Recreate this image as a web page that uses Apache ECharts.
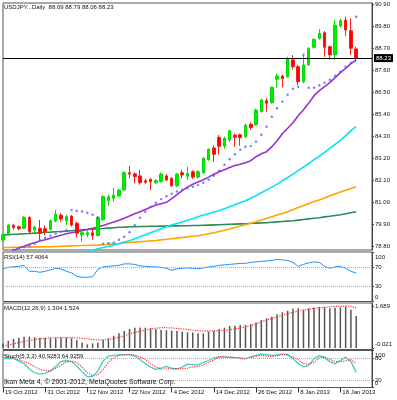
<!DOCTYPE html>
<html>
<head>
<meta charset="utf-8">
<script src="https://cdn.jsdelivr.net/npm/echarts@6/dist/echarts.min.js"></script>
<style>html,body{margin:0;padding:0;background:#fff}#main{width:397px;height:400px}</style>
</head>
<body>
<div id="main"></div>
<script>
var myChart = echarts.init(document.getElementById('main'));

var dates = [
  '19 Oct 2012','22 Oct 2012','23 Oct 2012','24 Oct 2012','25 Oct 2012','26 Oct 2012','29 Oct 2012','30 Oct 2012','31 Oct 2012',
  '1 Nov 2012','2 Nov 2012','5 Nov 2012','6 Nov 2012','7 Nov 2012','8 Nov 2012','9 Nov 2012','12 Nov 2012','13 Nov 2012','14 Nov 2012',
  '15 Nov 2012','16 Nov 2012','19 Nov 2012','20 Nov 2012','21 Nov 2012','22 Nov 2012','23 Nov 2012','26 Nov 2012','27 Nov 2012',
  '28 Nov 2012','29 Nov 2012','30 Nov 2012',
  '3 Dec 2012','4 Dec 2012','5 Dec 2012','6 Dec 2012','7 Dec 2012','10 Dec 2012','11 Dec 2012','12 Dec 2012','13 Dec 2012','14 Dec 2012',
  '17 Dec 2012','18 Dec 2012','19 Dec 2012','20 Dec 2012','21 Dec 2012','24 Dec 2012','25 Dec 2012','26 Dec 2012','27 Dec 2012',
  '28 Dec 2012','31 Dec 2012',
  '2 Jan 2013','3 Jan 2013','4 Jan 2013','7 Jan 2013','8 Jan 2013','9 Jan 2013','10 Jan 2013','11 Jan 2013','14 Jan 2013',
  '15 Jan 2013','16 Jan 2013','17 Jan 2013','18 Jan 2013','21 Jan 2013','22 Jan 2013','23 Jan 2013'
];
// empty slots to the right of the last bar
var emptySlots = ['', '', ''];

var open = [
  79.14,79.40,79.87,79.80,79.72,80.27,79.64,79.72,79.70,79.67,
  80.08,80.38,80.10,80.33,79.97,79.39,79.40,79.50,79.36,80.15,
  81.10,81.22,81.34,81.64,82.50,82.44,82.34,82.10,82.17,82.00,
  82.06,82.34,82.22,81.84,82.50,82.32,82.55,82.28,82.50,83.14,
  83.74,84.27,83.84,84.14,84.38,84.40,84.30,84.92,84.90,85.56,
  86.10,86.00,87.17,87.33,87.30,88.14,87.80,87.05,87.89,88.77,
  89.22,89.50,88.80,88.39,89.84,90.13,89.60,88.69
];
var high = [
  79.45,79.93,79.95,79.86,80.33,80.32,79.85,80.13,79.86,80.15,
  80.64,80.47,80.40,80.38,80.05,79.62,79.60,79.72,80.33,81.38,
  81.40,81.74,81.70,82.58,82.84,82.52,82.64,82.20,82.22,82.18,
  82.50,82.44,82.28,82.48,82.64,82.80,82.62,82.62,83.28,83.72,
  83.88,84.38,84.30,84.64,84.44,84.45,84.95,85.02,85.70,86.20,
  86.22,86.80,87.45,87.40,88.30,88.38,87.88,88.38,88.78,89.22,
  89.67,89.58,88.85,90.13,90.20,90.30,90.22,88.79
];
var low = [
  79.05,79.35,79.65,79.62,79.68,79.43,79.48,79.14,79.38,79.60,
  80.02,80.05,79.88,79.80,79.27,79.05,79.28,79.14,79.30,80.10,
  80.85,81.05,81.28,81.60,82.22,81.97,81.90,81.95,81.64,81.93,
  82.00,82.08,81.80,81.80,82.22,82.14,82.20,82.22,82.45,83.10,
  83.05,83.40,83.70,84.05,83.80,83.85,84.22,84.65,84.85,85.50,
  85.55,85.95,86.75,86.77,87.25,87.64,86.88,86.97,87.85,88.70,
  89.15,88.30,88.14,88.14,89.75,89.34,88.39,88.06
];
var close = [
  79.38,79.88,79.76,79.70,80.27,79.55,79.78,79.47,79.56,80.10,
  80.43,80.18,80.30,79.89,79.47,79.50,79.50,79.36,80.27,81.30,
  81.30,81.38,81.63,82.50,82.43,82.30,82.00,82.02,82.05,82.10,
  82.43,82.14,81.84,82.43,82.39,82.46,82.28,82.55,83.22,83.67,
  83.42,83.82,84.22,84.60,84.27,84.25,84.88,84.76,85.63,86.13,
  85.97,86.77,87.33,87.20,88.22,87.80,87.05,87.88,88.72,89.17,
  89.47,88.77,88.39,89.88,90.10,89.64,88.72,88.23
];

var sar = [
  78.55,78.60,78.65,78.72,78.78,78.85,78.95,79.12,79.25,79.35,
  79.45,79.55,79.62,80.63,80.60,80.56,80.50,80.40,80.25,78.95,
  78.97,79.00,79.15,79.30,79.52,79.88,80.25,80.55,80.80,81.00,
  81.18,81.32,81.45,81.56,81.65,81.72,81.80,81.88,82.00,82.15,
  82.35,82.60,82.90,83.17,83.42,83.65,83.80,83.83,84.05,84.40,
  84.80,85.30,85.72,86.05,86.40,86.70,86.80,88.40,86.75,86.75,
  86.87,87.00,87.15,87.35,87.55,87.80,88.00,90.30
];

var maPurple = [
  78.35,78.45,78.60,78.74,78.82,78.92,79.00,79.08,79.15,79.22,
  79.30,79.37,79.45,79.50,79.55,79.60,79.66,79.72,79.78,79.86,
  79.95,80.03,80.12,80.22,80.33,80.45,80.55,80.66,80.77,80.88,
  80.95,81.02,81.20,81.40,81.60,81.78,81.92,82.03,82.15,82.28,
  82.42,82.55,82.65,82.76,82.86,82.92,83.00,83.10,83.30,83.45,
  83.55,83.80,84.10,84.45,84.72,85.00,85.35,85.65,85.98,86.35,
  86.60,86.80,87.00,87.25,87.50,87.72,87.95,88.13
];
var maCyan = [
  78.00,78.03,78.06,78.10,78.13,78.17,78.20,78.24,78.28,78.32,
  78.36,78.40,78.44,78.48,78.52,78.55,78.58,78.62,78.70,78.76,
  78.82,78.88,78.95,79.03,79.10,79.20,79.30,79.40,79.50,79.60,
  79.70,79.80,79.88,79.96,80.04,80.12,80.20,80.30,80.38,80.45,
  80.53,80.60,80.70,80.80,80.90,81.00,81.10,81.22,81.35,81.50,
  81.64,81.78,81.93,82.10,82.26,82.43,82.60,82.78,82.96,83.15,
  83.33,83.52,83.72,83.92,84.12,84.35,84.60,84.80
];
var maOrange = [
  78.76,78.76,78.77,78.77,78.78,78.78,78.79,78.79,78.80,78.80,
  78.81,78.82,78.83,78.84,78.85,78.86,78.86,78.87,78.88,78.90,
  78.92,78.94,78.96,78.99,79.01,79.03,79.05,79.07,79.09,79.11,
  79.14,79.17,79.20,79.23,79.26,79.29,79.32,79.35,79.40,79.45,
  79.50,79.56,79.62,79.69,79.76,79.83,79.90,79.97,80.05,80.13,
  80.22,80.30,80.38,80.46,80.55,80.65,80.76,80.86,80.96,81.06,
  81.14,81.24,81.35,81.44,81.53,81.62,81.71,81.80
];
var maGreen = [
  79.39,79.40,79.42,79.43,79.45,79.46,79.48,79.50,79.52,79.53,
  79.55,79.56,79.58,79.60,79.62,79.64,79.66,79.68,79.70,79.71,
  79.73,79.75,79.77,79.78,79.80,79.80,79.81,79.81,79.82,79.82,
  79.83,79.83,79.84,79.84,79.85,79.85,79.86,79.86,79.87,79.88,
  79.89,79.90,79.91,79.92,79.93,79.94,79.95,79.97,79.98,79.99,
  80.00,80.02,80.04,80.06,80.08,80.10,80.13,80.16,80.19,80.22,
  80.25,80.29,80.32,80.36,80.40,80.45,80.50,80.55
];

var rsi = [
  66,69,70,71,73,61,61,59,61,64,
  67,66,61,58,51,49,49,50,65,70,
  71,72,73,76,76,75,72,71,70,70,
  69,67,63,66,67,68,67,66,68,70,
  71,73,74,75,76,77,77,79,80,81,
  82,83,85,84,83,79,71,75,78,80,
  79,71,67,70,71,67,61,57.4064
];

var macdHist = [
  0.19,0.29,0.37,0.42,0.46,0.46,0.44,0.42,0.41,0.40,
  0.41,0.42,0.42,0.40,0.33,0.23,0.15,0.19,0.23,0.33,
  0.40,0.50,0.60,0.70,0.78,0.83,0.84,0.83,0.81,0.78,
  0.74,0.73,0.71,0.70,0.67,0.64,0.63,0.60,0.60,0.67,
  0.70,0.78,0.83,0.90,0.91,0.94,0.95,0.97,1.04,1.15,
  1.22,1.28,1.38,1.46,1.52,1.60,1.63,1.56,1.62,1.65,
  1.685,1.689,1.63,1.65,1.66,1.689,1.56,1.304
];
var macdSignal = [
  0.08,0.12,0.17,0.22,0.27,0.31,0.35,0.38,0.40,0.42,
  0.42,0.43,0.43,0.42,0.41,0.40,0.38,0.35,0.33,0.33,
  0.35,0.39,0.44,0.50,0.57,0.64,0.69,0.74,0.78,0.81,
  0.83,0.83,0.82,0.80,0.78,0.76,0.73,0.71,0.70,0.70,
  0.70,0.71,0.72,0.75,0.78,0.82,0.86,0.91,0.98,1.06,
  1.14,1.21,1.28,1.33,1.40,1.46,1.51,1.55,1.59,1.62,
  1.64,1.66,1.68,1.70,1.71,1.72,1.70,1.65
];

var stochK = [
  78,79,78,72,64,50,40,36,38,45,
  57,70,73,70,58,43,29,30,45,72,
  85,87,88,89,89,85,75,65,55,49,
  52,57,52,50,55,63,62,61,67,73,
  80,82,82,82,81,80,78,83,87,91,
  89,87,88,90,90,78,65,56,60,78,
  86,80,70,64,73,82,70,40.93
];
var stochD = [
  87,84,80,75,70,65,56,49,46,45,
  52,60,69,71,68,55,40,32,35,48,
  68,80,87,88,89,88,82,76,64,56,
  50,50,51,51,51,52,56,57,60,68,
  74,84,83,82,80,78,77,80,85,87,
  85,83,86,89,87,82,75,64,63,68,
  80,84,76,70,70,72,75,64.93
];

var priceTicks = [78.80, 79.90, 81.00, 82.10, 83.20, 84.30, 85.40, 86.50, 87.60, 88.70, 89.80, 90.90];
var rsiTicks = [0, 30, 70, 100];
var rsiLevels = [70, 30];
var macdTicks = [-0.021, 1.689];
var stochTicks = [20, 80];
var stochEnds = [0, 100];
var stochLevels = [80, 20];
var lastPrice = 88.23;

var font = 'Liberation Sans';
var categories = dates.concat(emptySlots);
var candles = dates.map(function (d, i) { return [open[i], close[i], low[i], high[i]]; });

function labelIdx(i) { return i % 8 === 0 && i <= 64; }

var grids = [
  { left: 3, top: 3, width: 369, height: 247 },
  { left: 3, top: 252, width: 369, height: 49.5 },
  { left: 3, top: 303, width: 369, height: 46.5 },
  { left: 3, top: 350.5, width: 369, height: 37 }
].map(function (g) {
  return Object.assign({ show: true, borderColor: '#555', borderWidth: 1, backgroundColor: '#fff' }, g);
});

var xAxes = grids.map(function (g, k) {
  var last = k === grids.length - 1;
  return {
    type: 'category', gridIndex: k, data: categories, boundaryGap: false,
    axisLine: { show: false },
    axisTick: { show: last, interval: labelIdx, length: 5, inside: false, lineStyle: { color: '#333' } },
    axisLabel: {
      show: last, interval: labelIdx, align: 'left', margin: 2, padding: [0, 0, 0, 2],
      fontSize: 6, fontFamily: font, color: '#111'
    },
    splitLine: { show: false }
  };
});

function shiftRich(v, topVal, botVal, txt) {
  if (v === topVal) return '{dn|' + txt + '}';
  if (v === botVal) return '{up|' + txt + '}';
  return '{n|' + txt + '}';
}
var rich = {
  dn: { fontSize: 6, fontFamily: font, color: '#111', padding: [10, 0, 0, 0] },
  up: { fontSize: 6, fontFamily: font, color: '#111', padding: [0, 0, 8, 0] },
  n: { fontSize: 6, fontFamily: font, color: '#111' }
};

function yAxis(k, min, max, ticks, fmt, bare) {
  return {
    type: 'value', gridIndex: k, position: 'right', offset: 0, min: min, max: max, scale: true,
    axisLine: { show: !bare, lineStyle: { color: '#444' } },
    axisTick: { show: true, length: 2, customValues: ticks, lineStyle: { color: '#444' } },
    axisLabel: {
      customValues: ticks, margin: 3, formatter: fmt, rich: rich, hideOverlap: false,
      fontSize: 6, fontFamily: font, color: '#111'
    },
    splitLine: { show: false }
  };
}

var dotted = { color: '#aaa', type: 'dotted', width: 1 };
function levelLines(levels) {
  return {
    silent: true, symbol: 'none', label: { show: false }, lineStyle: dotted,
    data: levels.map(function (v) { return { yAxis: v }; })
  };
}

function maLine(data, color) {
  return {
    type: 'line', xAxisIndex: 0, yAxisIndex: 0, data: data, showSymbol: false,
    lineStyle: { color: color, width: 1.6 }, z: 3
  };
}

var small = { fontSize: 6, fontFamily: font, fontWeight: 'normal', color: '#111' };

var option = {
  animation: false,
  backgroundColor: '#fff',
  title: [
    { text: 'USDJPY...Daily  88.69 88.79 88.06 88.23', left: 4, top: 4, padding: 0, textStyle: small },
    { text: 'RSI(14) 57.4064', left: 4, top: 254, padding: 0, textStyle: small },
    { text: 'MACD(12,26,9) 1.304 1.524', left: 4, top: 305.5, padding: 0, textStyle: small },
    { text: 'Stoch(5,3,3) 40.9283 64.9259', left: 4, top: 353.5, padding: 0, textStyle: small },
    { text: 'Ikon Meta 4, \u00a9 2001-2012, MetaQuotes Software Corp.', left: 4, top: 378.5, padding: 0,
      textStyle: { fontSize: 7, fontFamily: font, fontWeight: 'normal', color: '#111' } }
  ],
  grid: grids,
  xAxis: xAxes,
  yAxis: [
    yAxis(0, 78.635, 90.985, priceTicks, function (v) { return '{n|' + v.toFixed(2) + '}'; }),
    yAxis(1, 0, 100, rsiTicks, function (v) { return shiftRich(v, 100, 0, String(v)); }),
    yAxis(2, -0.06, 1.84, macdTicks, function (v) { return shiftRich(v, 99, -0.021, v.toFixed(3)); }),
    yAxis(3, 0, 100, stochTicks, function (v) { return String(v); }),
    // second label set for the stochastic pane, drawn over the 80 / 20 labels like the terminal does
    yAxis(3, 0, 100, stochEnds, function (v) { return shiftRich(v, 100, 0, String(v)); }, true)
  ],
  series: [
    maLine(maGreen, '#2e8b57'),
    maLine(maOrange, '#ffa500'),
    maLine(maCyan, '#00e5f0'),
    maLine(maPurple, '#9932cc'),
    {
      type: 'candlestick', xAxisIndex: 0, yAxisIndex: 0, data: candles, barWidth: 3, z: 4,
      itemStyle: { color: '#00ee00', color0: '#ff0000', borderColor: '#00dd00', borderColor0: '#ff1a1a', borderWidth: 1 },
      markLine: {
        silent: true, symbol: 'none',
        lineStyle: { color: '#000', type: 'solid', width: 1 },
        label: {
          show: true, position: 'end', distance: 2, formatter: lastPrice.toFixed(2),
          backgroundColor: '#000', color: '#fff', padding: [1, 2, 1, 2], fontSize: 6, fontFamily: font
        },
        data: [{ yAxis: lastPrice }]
      }
    },
    {
      type: 'scatter', xAxisIndex: 0, yAxisIndex: 0, data: sar, symbol: 'circle', symbolSize: 2.4,
      itemStyle: { color: '#5a5aff' }, z: 5
    },
    {
      type: 'line', xAxisIndex: 1, yAxisIndex: 1, data: rsi, showSymbol: false,
      lineStyle: { color: '#1e90ff', width: 1 }, markLine: levelLines(rsiLevels)
    },
    {
      type: 'bar', xAxisIndex: 2, yAxisIndex: 2, data: macdHist, barWidth: 1.5,
      itemStyle: { color: '#555' }
    },
    {
      type: 'line', xAxisIndex: 2, yAxisIndex: 2, data: macdSignal, showSymbol: false,
      lineStyle: { color: '#ff3030', width: 1.2, type: 'dotted' }
    },
    {
      type: 'line', xAxisIndex: 3, yAxisIndex: 3, data: stochK, showSymbol: false,
      lineStyle: { color: '#40cfc4', width: 1.3 }, markLine: levelLines(stochLevels)
    },
    {
      type: 'line', xAxisIndex: 3, yAxisIndex: 3, data: stochD, showSymbol: false,
      lineStyle: { color: '#ff3030', width: 1.2, type: 'dotted' }
    }
  ]
};
myChart.setOption(option);
</script>
</body>
</html>
